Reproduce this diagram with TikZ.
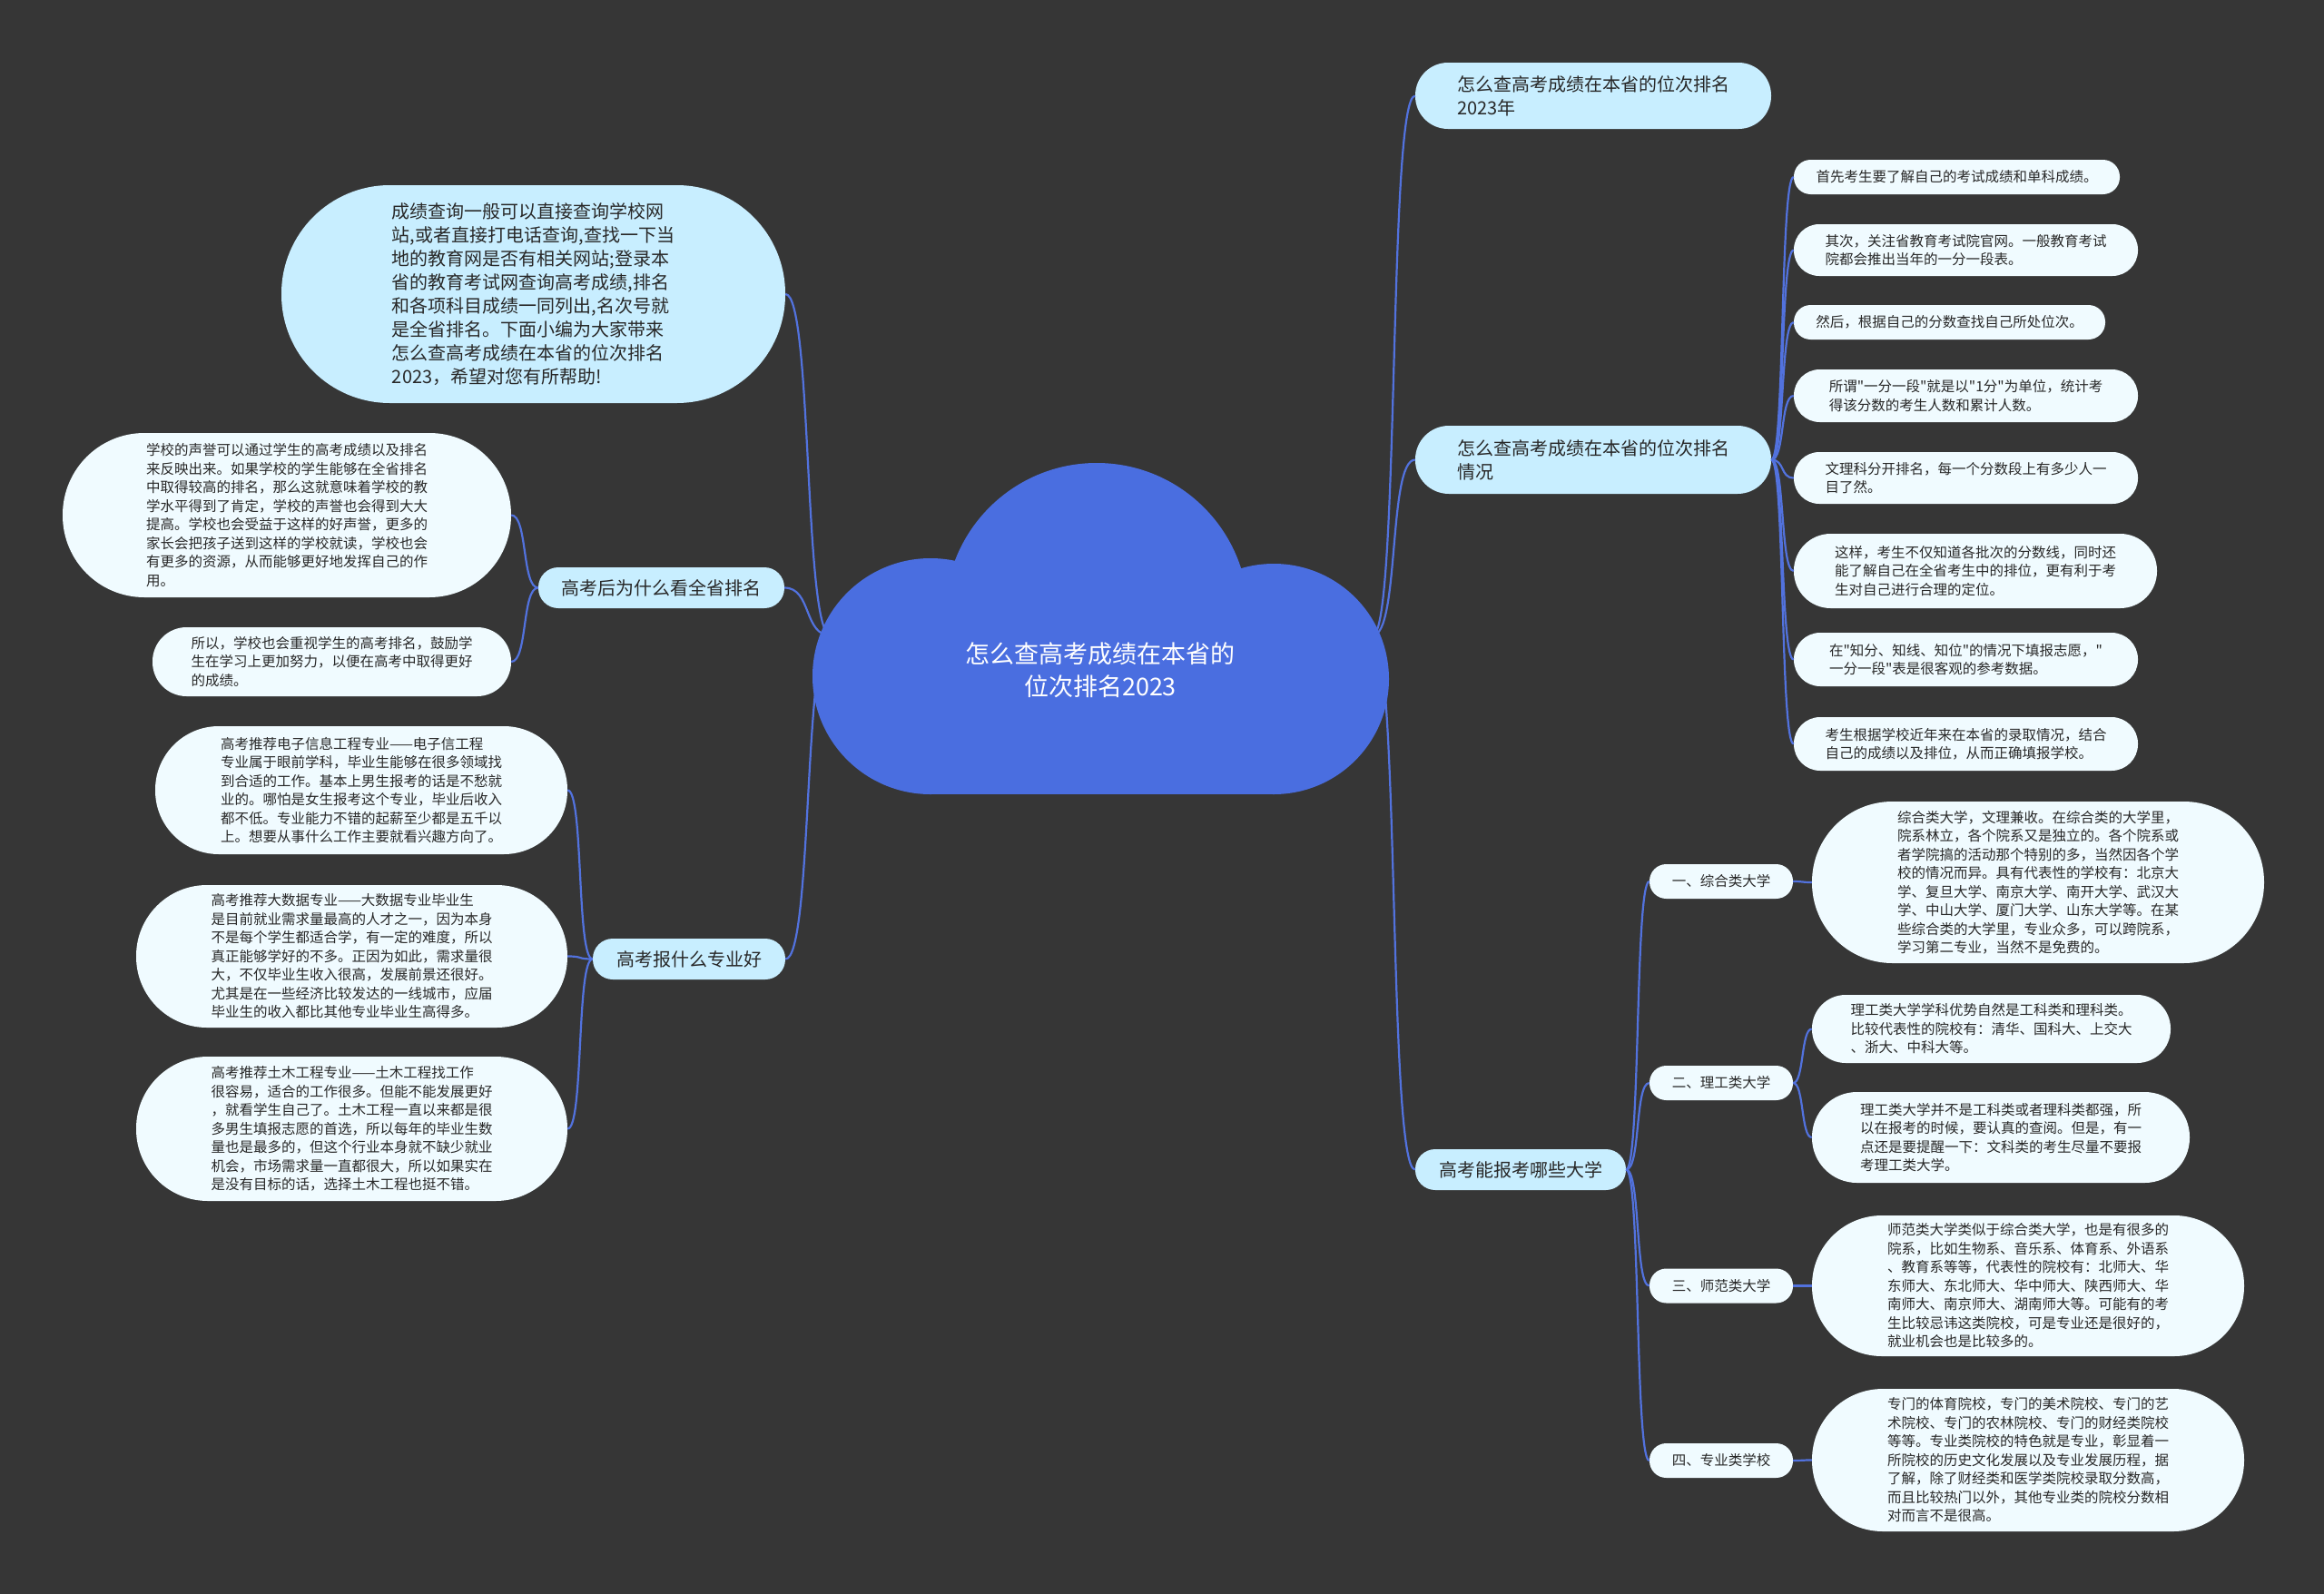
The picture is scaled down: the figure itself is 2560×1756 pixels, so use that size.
\documentclass[tikz,border=0pt]{standalone}
\usepackage{fontspec}
\setmainfont{Noto Sans CJK SC}[Ligatures=TeXOff]
\definecolor{bgcol}{RGB}{54,54,54}
\definecolor{cloudblue}{RGB}{74,110,224}
\definecolor{linkblue}{RGB}{82,114,222}
\definecolor{mainfill}{RGB}{200,238,255}
\definecolor{leaffill}{RGB}{240,251,255}
\definecolor{inkcol}{RGB}{40,40,40}
\tikzset{
  pill/.style={minimum height=#1, rounded corners=#1/2-0.5pt, inner sep=0pt, align=left, text=inkcol},
  mainbox/.style={pill=#1, fill=mainfill, font=\fontsize{20}{26}\selectfont},
  leafbox/.style={pill=#1, fill=leaffill, font=\fontsize{15.5}{20.5}\selectfont},
  link/.style={draw=linkblue, line width=2.2pt},
}
\newcommand*{\BranchRight}[3]{% #1 = parent point, #2 = list of children, #3 = bend
\foreach \tgt in {#2} {
\draw [link] (#1) .. controls +(#3,0) and +(-#3,0) .. (\tgt.west);
}%
}
\newcommand*{\BranchLeft}[3]{% #1 = parent point, #2 = list of children, #3 = bend
\foreach \tgt in {#2} {
\draw [link] (#1) .. controls +(-#3,0) and +(#3,0) .. (\tgt.east);
}%
}
\begin{document}
\begin{tikzpicture}[x=1pt, y=-1pt]
\fill [bgcol] (0,0) rectangle (2560,1756);
\useasboundingbox (0,0) rectangle (2560,1756);

% left side
\node [mainbox=240pt, minimum width=555pt] (intro) at (587.5,324) {成绩查询一般可以直接查询学校网\\站,或者直接打电话查询,查找一下当\\地的教育网是否有相关网站;登录本\\省的教育考试网查询高考成绩,排名\\和各项科目成绩一同列出,名次号就\\是全省排名。下面小编为大家带来\\怎么查高考成绩在本省的位次排名\\2023，希望对您有所帮助!};
\node [mainbox=45pt, minimum width=271pt] (whyRank) at (728.5,647.5) {高考后为什么看全省排名};
\node [leafbox=181pt, minimum width=494pt] (whyA) at (316,567.5) {学校的声誉可以通过学生的高考成绩以及排名\\来反映出来。如果学校的学生能够在全省排名\\中取得较高的排名，那么这就意味着学校的教\\学水平得到了肯定，学校的声誉也会得到大大\\提高。学校也会受益于这样的好声誉，更多的\\家长会把孩子送到这样的学校就读，学校也会\\有更多的资源，从而能够更好地发挥自己的作\\用。};
\node [leafbox=76pt, minimum width=395pt] (whyB) at (365.5,729) {所以，学校也会重视学生的高考排名，鼓励学\\生在学习上更加努力，以便在高考中取得更好\\的成绩。};
\node [mainbox=45pt, minimum width=212pt] (major) at (759,1056.5) {高考报什么专业好};
\node [leafbox=141pt, minimum width=454pt] (majorA) at (398,870.5) {高考推荐电子信息工程专业——电子信工程\\专业属于眼前学科，毕业生能够在很多领域找\\到合适的工作。基本上男生报考的话是不愁就\\业的。哪怕是女生报考这个专业，毕业后收入\\都不低。专业能力不错的起薪至少都是五千以\\上。想要从事什么工作主要就看兴趣方向了。};
\node [leafbox=157pt, minimum width=475pt] (majorB) at (387.5,1053.5) {高考推荐大数据专业——大数据专业毕业生\\是目前就业需求量最高的人才之一，因为本身\\不是每个学生都适合学，有一定的难度，所以\\真正能够学好的不多。正因为如此，需求量很\\大，不仅毕业生收入很高，发展前景还很好。\\尤其是在一些经济比较发达的一线城市，应届\\毕业生的收入都比其他专业毕业生高得多。};
\node [leafbox=159pt, minimum width=475pt] (majorC) at (387.5,1243.5) {高考推荐土木工程专业——土木工程找工作\\很容易，适合的工作很多。但能不能发展更好\\，就看学生自己了。土木工程一直以来都是很\\多男生填报志愿的首选，所以每年的毕业生数\\量也是最多的，但这个行业本身就不缺少就业\\机会，市场需求量一直都很大，所以如果实在\\是没有目标的话，选择土木工程也挺不错。};

% right side
\node [mainbox=73pt, minimum width=392pt] (howYear) at (1755,105.5) {怎么查高考成绩在本省的位次排名\\2023年};
\node [mainbox=75pt, minimum width=392pt] (howCase) at (1755,506.5) {怎么查高考成绩在本省的位次排名\\情况};
\node [mainbox=45pt, minimum width=232pt] (which) at (1675,1288.5) {高考能报考哪些大学};

\node [leafbox=38pt, minimum width=359pt] (caseA) at (2155.5,195) {首先考生要了解自己的考试成绩和单科成绩。};
\node [leafbox=57pt, minimum width=379pt] (caseB) at (2165.5,275.5) {其次，关注省教育考试院官网。一般教育考试\\院都会推出当年的一分一段表。};
\node [leafbox=38pt, minimum width=343pt] (caseC) at (2147.5,355) {然后，根据自己的分数查找自己所处位次。};
\node [leafbox=58pt, minimum width=379pt] (caseD) at (2165.5,436) {所谓"一分一段"就是以"1分"为单位，统计考\\得该分数的考生人数和累计人数。};
\node [leafbox=57pt, minimum width=379pt] (caseE) at (2165.5,526.5) {文理科分开排名，每一个分数段上有多少人一\\目了然。};
\node [leafbox=82pt, minimum width=400pt] (caseF) at (2176,629) {这样，考生不仅知道各批次的分数线，同时还\\能了解自己在全省考生中的排位，更有利于考\\生对自己进行合理的定位。};
\node [leafbox=59pt, minimum width=379pt] (caseG) at (2165.5,726.5) {在"知分、知线、知位"的情况下填报志愿，"\\一分一段"表是很客观的参考数据。};
\node [leafbox=59pt, minimum width=379pt] (caseH) at (2165.5,819.5) {考生根据学校近年来在本省的录取情况，结合\\自己的成绩以及排位，从而正确填报学校。};

\node [leafbox=38pt, minimum width=158pt] (typeA) at (1896,971) {一、综合类大学};
\node [leafbox=38pt, minimum width=158pt] (typeB) at (1896,1193) {二、理工类大学};
\node [leafbox=38pt, minimum width=158pt] (typeC) at (1896,1416.5) {三、师范类大学};
\node [leafbox=38pt, minimum width=158pt] (typeD) at (1896,1609) {四、专业类学校};

\node [leafbox=178pt, minimum width=498pt] (compA) at (2245,972) {综合类大学，文理兼收。在综合类的大学里，\\院系林立，各个院系又是独立的。各个院系或\\者学院搞的活动那个特别的多，当然因各个学\\校的情况而异。具有代表性的学校有：北京大\\学、复旦大学、南京大学、南开大学、武汉大\\学、中山大学、厦门大学、山东大学等。在某\\些综合类的大学里，专业众多，可以跨院系，\\学习第二专业，当然不是免费的。};
\node [leafbox=75pt, minimum width=395pt] (techA) at (2193.5,1133.5) {理工类大学学科优势自然是工科类和理科类。\\比较代表性的院校有：清华、国科大、上交大\\、浙大、中科大等。};
\node [leafbox=100pt, minimum width=416pt] (techB) at (2204,1253) {理工类大学并不是工科类或者理科类都强，所\\以在报考的时候，要认真的查阅。但是，有一\\点还是要提醒一下：文科类的考生尽量不要报\\考理工类大学。};
\node [leafbox=155pt, minimum width=476pt] (normA) at (2234,1416.5) {师范类大学类似于综合类大学，也是有很多的\\院系，比如生物系、音乐系、体育系、外语系\\、教育系等等，代表性的院校有：北师大、华\\东师大、东北师大、华中师大、陕西师大、华\\南师大、南京师大、湖南师大等。可能有的考\\生比较忌讳这类院校，可是专业还是很好的，\\就业机会也是比较多的。};
\node [leafbox=157pt, minimum width=476pt] (specA) at (2234,1608.5) {专门的体育院校，专门的美术院校、专门的艺\\术院校、专门的农林院校、专门的财经类院校\\等等。专业类院校的特色就是专业，彰显着一\\所院校的历史文化发展以及专业发展历程，据\\了解，除了财经类和医学类院校录取分数高，\\而且比较热门以外，其他专业类的院校分数相\\对而言不是很高。};

% connectors
\coordinate (hubL) at (915,700);
\coordinate (hubR) at (1512,700);
\BranchLeft{hubL}{intro,whyRank,major}{30}
\BranchRight{hubR}{howYear,howCase,which}{30}
\BranchLeft{whyRank.west}{whyA,whyB}{18}
\BranchLeft{major.west}{majorA,majorB,majorC}{18}
\BranchRight{howCase.east}{caseA,caseB,caseC,caseD,caseE,caseF,caseG,caseH}{15}
\BranchRight{which.east}{typeA,typeB,typeC,typeD}{16}
\BranchRight{typeA.east}{compA}{12}
\BranchRight{typeB.east}{techA,techB}{12}
\BranchRight{typeC.east}{normA}{12}
\BranchRight{typeD.east}{specA}{12}

% central cloud
\begin{scope}[cloudblue]
\fill (1208,677) circle (167pt);
\fill (1025,745) circle (130pt);
\fill (1403,748) circle (127pt);
\fill (1025,700) rectangle (1403,875);
\end{scope}
\node [align=center, text=white, font=\fontsize{27}{36}\selectfont] (hub) at (1212,738) {怎么查高考成绩在本省的\\位次排名2023};
\end{tikzpicture}
\end{document}
